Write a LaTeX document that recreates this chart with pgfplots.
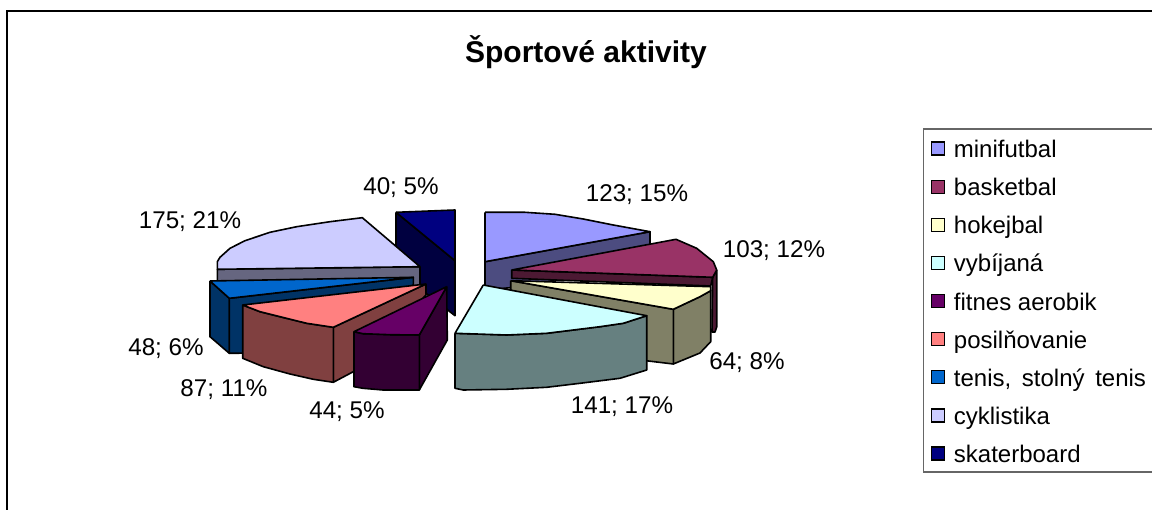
\documentclass[border=0pt]{standalone}
\usepackage{fontspec}
\setmainfont{Liberation Sans}
\usepackage{pgfplots}
\pgfplotsset{compat=1.18}
% face colours: top, side
\definecolor{minitop}{HTML}{9999FF}\definecolor{miniside}{HTML}{4C4C80}
\definecolor{bastop}{HTML}{993366}\definecolor{basside}{HTML}{4C1933}
\definecolor{hoktop}{HTML}{FFFFCC}\definecolor{hokside}{HTML}{808066}
\definecolor{vybtop}{HTML}{CCFFFF}\definecolor{vybside}{HTML}{668080}
\definecolor{fittop}{HTML}{660066}\definecolor{fitside}{HTML}{330033}
\definecolor{postop}{HTML}{FF8080}\definecolor{posside}{HTML}{804040}
\definecolor{tentop}{HTML}{0066CC}\definecolor{tenside}{HTML}{003366}
\definecolor{cyktop}{HTML}{CCCCFF}\definecolor{cykside}{HTML}{666680}
\definecolor{skatop}{HTML}{000080}\definecolor{skaside}{HTML}{000040}
\newcommand{\entry}[1]{\makebox[215pt][l]{\hspace{5pt}#1}}
\pgfplotsset{
    face/.style={draw=black,line width=1.6pt,line join=round,fill=#1,no markers,forget plot},
    swatch/.style={legend image code/.code={\path (0pt,0pt); \draw[draw=black,line width=1.4pt,fill=#1] (7pt,-7pt) rectangle (20pt,6pt);}},
}
\begin{document}
\begin{tikzpicture}
\useasboundingbox (0,0) rectangle (1152pt,510pt);
\begin{axis}[
    at={(0,0)}, anchor=south west,
    scale only axis, width=1152pt, height=510pt,
    xmin=0, xmax=1152, ymin=0, ymax=510, y dir=reverse,
    hide axis,
    legend cell align=left,
    legend style={at={(axis cs:923,128.5)}, anchor=north west, draw=black!60, line width=1.2pt,
        font=\fontsize{24}{26}\selectfont, inner xsep=0pt, inner ysep=0pt, row sep=0pt,
        nodes={inner xsep=4pt, inner ysep=0pt, text height=28.5pt, text depth=9.6pt}},
]
% frame runs off the right and bottom edge
\addplot[black,line width=2pt,no markers,forget plot] coordinates {(7,520)(7,11)(1160,11)};

% skaterboard
\addplot[face=skaside] coordinates {(396,212.3)(455,260.7)(455,315.7)(396,270)(396,212.3)};
\addplot[face=skatop] coordinates {(396,212.3)(455,210)(455,260.7)(396,212.3)};
% cyklistika
\addplot[face=cykside] coordinates {(217.3,269.3)(420,266.7)(420,290)(217.3,290)(217.3,269.3)};
\addplot[face=cyktop] coordinates {(420,266.7)(362.3,217.7)(330,221.7)(296.7,226.7)(270,232.3)(245,240.7)(230,248.3)(220,257.3)(217.3,261.7)(217.3,269.3)(420,266.7)};
% tenis, stolny tenis
\addplot[face=tenside] coordinates {(210,281)(229.3,298.3)(229.3,353.3)(210,336.7)(210,281)};
\addplot[face=tenside] coordinates {(229.3,298.3)(413.3,277.3)(413.3,285)(260,353)(229.3,353.3)(229.3,298.3)};
\addplot[face=tentop] coordinates {(210,281)(413.3,277.3)(229.3,298.3)(210,281)};
% posilnovanie
\addplot[face=posside] coordinates {(333.3,327.3)(426,284)(426,295)(353.3,371.7)(333.3,382.3)(333.3,327.3)};
\addplot[face=posside] coordinates {(242.7,305)(260,311.7)(280,316.7)(306.7,323.3)(333.3,327.3)(333.3,382.3)(313.3,379.3)(290,374)(263.3,366.7)(242.7,358.3)(242.7,305)};
\addplot[face=postop] coordinates {(426,284)(333.3,327.3)(306.7,323.3)(280,316.7)(260,311.7)(242.7,305)(426,284)};
% fitnes aerobik
\addplot[face=fitside] coordinates {(419.3,335)(446.7,286.7)(447.3,340)(419.3,390)(419.3,335)};
\addplot[face=fitside] coordinates {(354,331.7)(363,333.7)(390,334.7)(419.3,335)(419.3,390)(383,390)(363,388.3)(354,386.7)(354,331.7)};
\addplot[face=fittop] coordinates {(446.7,286.7)(419.3,335)(390,334.7)(363,333.7)(354,331.7)(446.7,286.7)};
% minifutbal
\addplot[face=miniside] coordinates {(485,261.7)(650,231.7)(650,245)(540,285)(485,290)(485,261.7)};
\addplot[face=minitop] coordinates {(485,212.3)(525,212.3)(555,214.3)(583.3,219)(613.3,225)(650,231.7)(485,261.7)(485,212.3)};
% basketbal
\addplot[face=basside] coordinates {(716.7,270)(712.7,277.3)(712,332)(715,332)(716.7,327)(716.7,270)};
\addplot[face=basside] coordinates {(511.7,270)(712.7,277.3)(710.7,286)(511.7,278.3)(511.7,270)};
\addplot[face=bastop] coordinates {(511.7,270)(676,239.3)(696.7,248.3)(713.3,261.7)(716.7,270)(712.7,277.3)(511.7,270)};
% hokejbal
\addplot[face=hokside] coordinates {(673.3,309.3)(700,296.7)(710.7,290.7)(710.7,341.7)(700,353)(673.3,364)(673.3,309.3)};
\addplot[face=hokside] coordinates {(510.7,280.7)(673.3,309.3)(673.3,364)(640,360)(510.7,290)(510.7,280.7)};
\addplot[face=hoktop] coordinates {(510.7,280.7)(710.7,286.7)(710.7,290.7)(700,296.7)(673.3,309.3)(510.7,280.7)};
% vybijana
\addplot[face=vybside] coordinates {(455,333.3)(506.7,335)(546.7,333.3)(600,326.7)(623.3,323.3)(646.7,315.7)(646.7,370)(620,378.3)(580,383.3)(546.7,387.3)(506.7,389.3)(463.3,390)(455,388.3)(455,333.3)};
\addplot[face=vybtop] coordinates {(483.3,285)(646.7,315.7)(623.3,323.3)(600,326.7)(546.7,333.3)(506.7,335)(455,333.3)(483.3,285)};

% legend entries, in series order
\addlegendimage{swatch=minitop}\addlegendentry{\entry{minifutbal}}
\addlegendimage{swatch=bastop}\addlegendentry{\entry{basketbal}}
\addlegendimage{swatch=hoktop}\addlegendentry{\entry{hokejbal}}
\addlegendimage{swatch=vybtop}\addlegendentry{\entry{vybíjaná}}
\addlegendimage{swatch=fittop}\addlegendentry{\entry{fitnes aerobik}}
\addlegendimage{swatch=postop}\addlegendentry{\entry{posilňovanie}}
\addlegendimage{swatch=tentop}\addlegendentry{\entry{tenis,\hspace{4pt} stolný\hspace{4pt} tenis}}
\addlegendimage{swatch=cyktop}\addlegendentry{\entry{cyklistika}}
\addlegendimage{swatch=skatop}\addlegendentry{\entry{skaterboard}}

\node[font=\fontsize{30}{32}\selectfont\bfseries] at (axis cs:586,52) {Športové aktivity};
\begin{scope}[every node/.style={font=\fontsize{24.2}{26}\selectfont}]
\node at (axis cs:637,195) {123; 15\%};
\node at (axis cs:774,251) {103; 12\%};
\node at (axis cs:747,363) {64; 8\%};
\node at (axis cs:622,407) {141; 17\%};
\node at (axis cs:347,412) {44; 5\%};
\node at (axis cs:224,390) {87; 11\%};
\node at (axis cs:166,349) {48; 6\%};
\node at (axis cs:190,222) {175; 21\%};
\node at (axis cs:401,188) {40; 5\%};
\end{scope}
\end{axis}
\end{tikzpicture}
\end{document}
